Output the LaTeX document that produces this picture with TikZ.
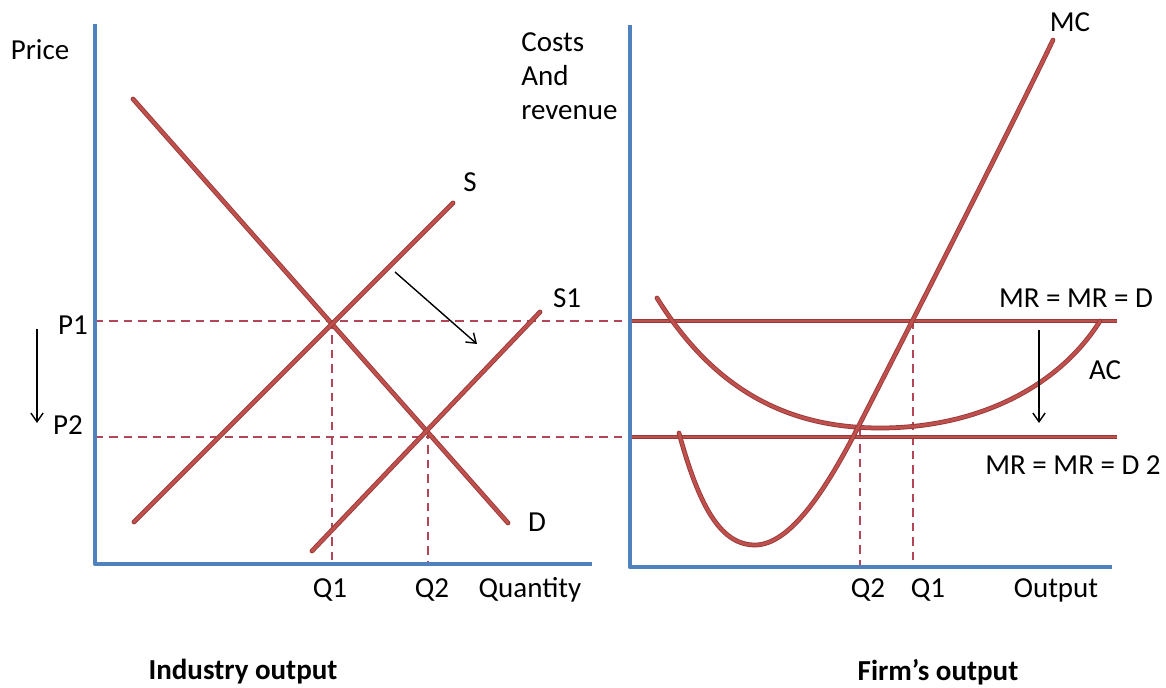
\documentclass[tikz,border=0pt]{standalone}
\usepackage{fontspec}
\setmainfont{Carlito}
\usetikzlibrary{arrows.meta,calc}
\definecolor{axisblue}{RGB}{79,129,189}
\definecolor{curvered}{RGB}{192,80,77}
\definecolor{curveedge}{RGB}{150,58,56}
\definecolor{guidered}{RGB}{178,70,88}
\tikzset{
	axis/.style={draw=axisblue, line width=2.4pt},
	curve/.style={draw=curveedge, line width=2.7pt, line cap=round,
			postaction={draw=curvered, line width=1.7pt}},
	guide/.style={draw=guidered, line width=0.85pt, dash pattern=on 4.8pt off 3.4pt},
	lbl/.style={font=\fontsize{16.5}{19.5}\selectfont, inner sep=0pt}
}

\begin{document}
\begin{tikzpicture}[x=0.02cm, y=-0.02cm, line join=round]
    \useasboundingbox (0,0) rectangle (1166,688);

    % left panel: industry
    \coordinate (Ltop) at (95,24);
    \coordinate (Lorig) at (95,564);
    \coordinate (Lend) at (592,564);
    \coordinate (Dstart) at (133,99);
    \coordinate (Dend) at (508,523);
    \coordinate (Sstart) at (134,522);
    \coordinate (Send) at (453,203);
    \coordinate (Sonestart) at (312,551);
    \coordinate (Soneend) at (540,312);
    \coordinate (E1) at (332,321);
    \coordinate (E2) at (428,437);

    % right panel: firm
    \coordinate (Rtop) at (630,25);
    \coordinate (Rorig) at (630,567);
    \coordinate (Rend) at (1112,567);
    \coordinate (MRa) at (632,321);
    \coordinate (MRb) at (1117,321);
    \coordinate (MRc) at (632,437);
    \coordinate (MRd) at (1117,437);
    \coordinate (F1) at (913,321);
    \coordinate (F2) at (860,437);

    % guide lines
    \draw[guide] (Lorig |- E1) -- (Rorig |- E1);
    \draw[guide] (Lorig |- E2) -- (Rorig |- E2);
    \draw[guide] (E1) -- (E1 |- Lorig);
    \draw[guide] (E2 |- 0,431) -- (E2 |- Lorig);
    \draw[guide] (F1) -- (F1 |- Rorig);
    \draw[guide] (F2 |- 0,430) -- (F2 |- Rorig);

    % axes
    \draw[axis] (Ltop) -- (Lorig) -- (Lend);
    \draw[axis] (Rtop) -- (Rorig) -- (Rend);

    % demand and supply
    \draw[curve] (Dstart) -- (Dend);
    \draw[curve] (Sstart) -- (Send);
    \draw[curve] (Sonestart) -- (Soneend);

    % revenue lines
    \draw[curve, line cap=butt] (MRa) -- (MRb);
    \draw[curve, line cap=butt] (MRc) -- (MRd);

    % AC and MC
    \draw[curve] (657,298) .. controls (720,400) and (800,428) .. (880,428)
        .. controls (980,428) and (1060,385) .. (1100,321);
    \draw[curve] (679,433) .. controls (700,510) and (722,545) .. (755,545)
        .. controls (790,545) and (825,490) .. (853,437)
        .. controls (890,365) and (1010,130) .. (1053,40);

    % shift arrows
    \tikzset{arr/.style={-{Straight Barb[length=5pt, width=7pt]}, line width=0.8pt}}
    \coordinate (A1) at (395,272);
    \coordinate (A2) at (477,344);
    \draw[arr] (A1) -- (A2);
    \coordinate (B1) at (37,329);
    \coordinate (B2) at (37,423);
    \draw[arr] (B1) -- (B2);
    \coordinate (C1) at (1039,330);
    \coordinate (C2) at (1039,423);
    \draw[arr] (C1) -- (C2);

    % labels
    \node[lbl] (price) at (40,50) {Price};
    \node[lbl, anchor=west, align=left] (costs) at (521,76) {Costs\\And\\revenue};
    \node[lbl] (mc) at (1070,22) {MC};
    \node[lbl] (s) at (470,182) {S};
    \node[lbl] (sone) at (567,298) {S1};
    \node[lbl] (d) at (537,522) {D};
    \node[lbl] (pone) at (73,325) {P1};
    \node[lbl] (ptwo) at (68,425) {P2};
    \node[lbl] (qone) at (330,590) {Q1};
    \node[lbl] (qtwo) at (432,590) {Q2};
    \node[lbl] (qty) at (530,590) {Quantity};
    \node[lbl] (fqtwo) at (868,590) {Q2};
    \node[lbl] (fqone) at (928,590) {Q1};
    \node[lbl] (out) at (1056,590) {Output};
    \node[lbl] (mr) at (1076,298) {MR = MR = D};
    \node[lbl] (ac) at (1105,370) {AC};
    \node[lbl] (mrtwo) at (1073,465) {MR = MR = D 2};
    \node[lbl, font=\fontsize{16.5}{19.5}\selectfont\bfseries] (ind) at (243,672) {Industry output};
    \node[lbl, font=\fontsize{16.5}{19.5}\selectfont\bfseries] (firm) at (938,672) {Firm’s output};
  \end{tikzpicture}
\end{document}
